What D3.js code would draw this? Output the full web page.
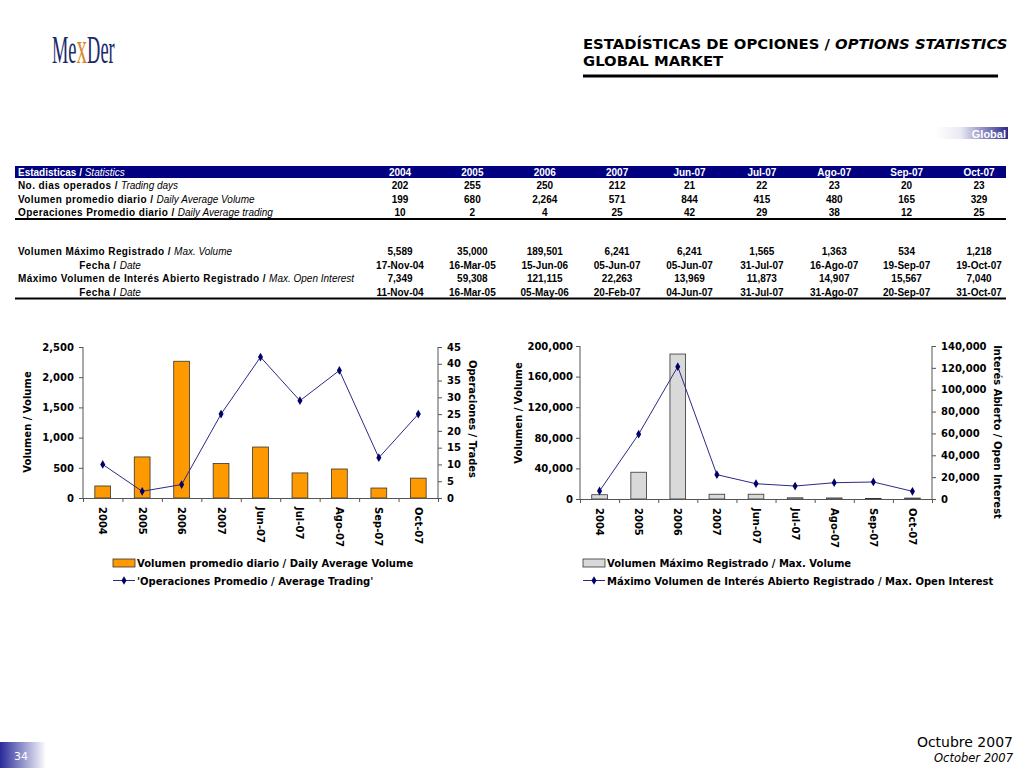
<!DOCTYPE html>
<html>
<head>
<meta charset="utf-8">
<script src="https://cdn.jsdelivr.net/npm/d3@7"></script>
<style>
  body { margin: 0; background: #fff; }
  svg { display: block; }
  .tbl { font-family: "Liberation Sans", Arial, sans-serif; font-size: 10px; }
  .chart text { font-family: "DejaVu Sans", Verdana, sans-serif; font-size: 10px; font-weight: bold; fill: #000; }
  .axis path, .axis line { stroke: #555; }
</style>
</head>
<body>
<div id="page"></div>
<script>
// table / chart data
const periods = ['2004', '2005', '2006', '2007', 'Jun-07', 'Jul-07', 'Ago-07', 'Sep-07', 'Oct-07'];
const tradingDays = [202, 255, 250, 212, 21, 22, 23, 20, 23];
const avgVolume = [199, 680, 2264, 571, 844, 415, 480, 165, 329];
const avgTrades = [10, 2, 4, 25, 42, 29, 38, 12, 25];
const maxVolume = [5589, 35000, 189501, 6241, 6241, 1565, 1363, 534, 1218];
const maxVolumeDate = ['17-Nov-04', '16-Mar-05', '15-Jun-06', '05-Jun-07', '05-Jun-07', '31-Jul-07', '16-Ago-07', '19-Sep-07', '19-Oct-07'];
const maxOpenInterest = [7349, 59308, 121115, 22263, 13969, 11873, 14907, 15567, 7040];
const maxOpenInterestDate = ['11-Nov-04', '16-Mar-05', '05-May-06', '20-Feb-07', '04-Jun-07', '31-Jul-07', '31-Ago-07', '20-Sep-07', '31-Oct-07'];

const fmt = d3.format(',');

const svg = d3.select('#page').append('svg')
    .attr('width', 1024)
    .attr('height', 768);

const defs = svg.append('defs');
const g1 = defs.append('linearGradient').attr('id', 'gradGlobal');
g1.append('stop').attr('offset', '0%').attr('stop-color', '#ffffff');
g1.append('stop').attr('offset', '35%').attr('stop-color', '#e8e8f2');
g1.append('stop').attr('offset', '100%').attr('stop-color', '#2b2b8c');
const g2 = defs.append('linearGradient').attr('id', 'gradPage');
g2.append('stop').attr('offset', '0%').attr('stop-color', '#2a2a9a');
g2.append('stop').attr('offset', '100%').attr('stop-color', '#ffffff');

// logo
const logo = svg.append('text')
    .attr('transform', 'translate(52,63) scale(0.46,1)')
    .style('font-family', '"Liberation Serif", serif')
    .style('font-size', '40px')
    .style('fill', '#1b2a6b');
logo.append('tspan').text('Me');
logo.append('tspan').text('x').style('fill', '#d98a2b').style('font-size', '46px');
logo.append('tspan').text('Der');

// header
svg.append('text')
    .attr('x', 583).attr('y', 49)
    .style('font-family', '"DejaVu Sans", Verdana, sans-serif')
    .style('font-size', '14.8px').style('font-weight', 'bold')
    .call(t => {
        t.append('tspan').text('ESTADÍSTICAS DE OPCIONES / ');
        t.append('tspan').text('OPTIONS STATISTICS').style('font-style', 'italic');
    });
svg.append('text')
    .attr('x', 583).attr('y', 66)
    .style('font-family', '"DejaVu Sans", Verdana, sans-serif')
    .style('font-size', '14.8px').style('font-weight', 'bold')
    .text('GLOBAL MARKET');
svg.append('line')
    .attr('x1', 583).attr('x2', 998).attr('y1', 76).attr('y2', 76)
    .attr('stroke', '#000').attr('stroke-width', 3);

// "Global" tag
svg.append('rect').attr('x', 936).attr('y', 127).attr('width', 72).attr('height', 12)
    .attr('fill', 'url(#gradGlobal)');
svg.append('text').attr('x', 1006).attr('y', 137.5)
    .attr('text-anchor', 'end')
    .style('font-family', '"Liberation Sans", Arial, sans-serif')
    .style('font-size', '11px').style('font-weight', 'bold').style('fill', '#fff')
    .text('Global');

// ---------- table ----------
const colX = d3.scalePoint().domain(periods).range([400, 979]);
const tbl = svg.append('g').attr('class', 'tbl');

tbl.append('rect').attr('x', 15).attr('y', 166).attr('width', 991).attr('height', 12).attr('fill', '#000080');
tbl.append('text').attr('x', 18).attr('y', 175.5).style('fill', '#fff')
    .call(t => {
        t.append('tspan').text('Estadisticas / ').style('font-weight', 'bold');
        t.append('tspan').text('Statistics').style('font-style', 'italic');
    });
tbl.selectAll('text.hdr').data(periods).join('text')
    .attr('class', 'hdr')
    .attr('x', d => colX(d)).attr('y', 175.5)
    .attr('text-anchor', 'middle')
    .style('fill', '#fff').style('font-weight', 'bold')
    .text(d => d);

const rows = [
    {y: 189, label: 'No. dias operados / ', it: 'Trading days', vals: tradingDays.map(fmt), center: false},
    {y: 202.5, label: 'Volumen promedio diario / ', it: 'Daily Average Volume', vals: avgVolume.map(fmt), center: false},
    {y: 216, label: 'Operaciones Promedio diario / ', it: 'Daily Average trading', vals: avgTrades.map(fmt), center: false},
    {y: 255, label: 'Volumen Máximo Registrado / ', it: 'Max. Volume', vals: maxVolume.map(fmt), center: false},
    {y: 268.5, label: 'Fecha / ', it: 'Date', vals: maxVolumeDate, center: true},
    {y: 282, label: 'Máximo Volumen de Interés Abierto Registrado / ', it: 'Max. Open Interest', vals: maxOpenInterest.map(fmt), center: false},
    {y: 295.5, label: 'Fecha / ', it: 'Date', vals: maxOpenInterestDate, center: true}
];

rows.forEach(r => {
    const t = tbl.append('text')
        .attr('x', r.center ? 110 : 18).attr('y', r.y)
        .attr('text-anchor', r.center ? 'middle' : 'start')
        .style('letter-spacing', '0.4px');
    t.append('tspan').text(r.label).style('font-weight', 'bold');
    t.append('tspan').text(r.it).style('font-style', 'italic').style('letter-spacing', '0px');
    tbl.append('g').selectAll('text').data(r.vals).join('text')
        .attr('x', (d, i) => colX(periods[i])).attr('y', r.y)
        .attr('text-anchor', 'middle').style('font-weight', 'bold')
        .text(d => d);
});
tbl.append('line').attr('x1', 15).attr('x2', 1006).attr('y1', 219).attr('y2', 219).attr('stroke', '#000').attr('stroke-width', 2);
tbl.append('line').attr('x1', 15).attr('x2', 1006).attr('y1', 298.5).attr('y2', 298.5).attr('stroke', '#000').attr('stroke-width', 2);

// ---------- charts ----------
function drawChart(cfg) {
    const g = svg.append('g').attr('class', 'chart');
    const x = d3.scaleBand().domain(periods).range([cfg.x0, cfg.x1]).paddingInner(0.6).paddingOuter(0.3);
    const xb = d3.scaleLinear().domain([0, periods.length]).range([cfg.x0, cfg.x1]);
    const yL = d3.scaleLinear().domain([0, cfg.maxL]).range([cfg.yB, cfg.yT]);
    const yR = d3.scaleLinear().domain([0, cfg.maxR]).range([cfg.yB, cfg.yT]);

    // bars
    g.append('g').selectAll('rect').data(cfg.bars).join('rect')
        .attr('x', (d, i) => x(periods[i]))
        .attr('y', d => yL(d))
        .attr('width', x.bandwidth())
        .attr('height', d => cfg.yB - yL(d))
        .attr('fill', cfg.barColor)
        .attr('stroke', '#333').attr('stroke-width', 0.8);

    // axes
    g.append('g').attr('class', 'axis')
        .attr('transform', `translate(${cfg.x0},0)`)
        .call(d3.axisLeft(yL).tickValues(cfg.ticksL).tickFormat(fmt).tickSize(4).tickPadding(cfg.padL))
        .call(a => a.select('.domain').attr('d', `M0,${cfg.yT}V${cfg.yB}`));
    g.append('g').attr('class', 'axis')
        .attr('transform', `translate(${cfg.x1},0)`)
        .call(d3.axisRight(yR).tickValues(cfg.ticksR).tickFormat(fmt).tickSize(4).tickPadding(5))
        .call(a => a.select('.domain').attr('d', `M0,${cfg.yT}V${cfg.yB}`));
    g.append('g').attr('class', 'axis')
        .attr('transform', `translate(0,${cfg.yB})`)
        .call(d3.axisBottom(xb).ticks(periods.length).tickSize(4).tickFormat(''));
    g.append('g').attr('class', 'axis')
        .attr('transform', `translate(0,${cfg.yB})`)
        .call(d3.axisBottom(x).tickSize(0))
        .call(a => a.select('.domain').remove())
        .selectAll('text')
        .attr('transform', 'rotate(90)')
        .attr('x', 9).attr('y', 0).attr('dy', '0.35em')
        .attr('text-anchor', 'start');

    // line
    const line = d3.line().x((d, i) => x(periods[i]) + x.bandwidth() / 2).y(d => yR(d));
    g.append('path').datum(cfg.line)
        .attr('d', line).attr('fill', 'none')
        .attr('stroke', '#2a2a86').attr('stroke-width', 1);
    g.append('g').selectAll('path').data(cfg.line).join('path')
        .attr('d', d3.symbol(d3.symbolDiamond, 22))
        .attr('transform', (d, i) => `translate(${x(periods[i]) + x.bandwidth() / 2},${yR(d)})`)
        .attr('fill', '#000066');

    // axis titles
    g.append('text')
        .attr('transform', `translate(${cfg.titleLX},${cfg.titleLY}) rotate(-90)`)
        .attr('text-anchor', 'middle').attr('dy', '0.35em')
        .text('Volumen / Volume');
    g.append('text')
        .attr('transform', `translate(${cfg.titleRX},${cfg.titleRY}) rotate(90)`)
        .attr('text-anchor', 'middle').attr('dy', '0.35em')
        .text(cfg.titleR);

    // legend
    g.append('rect').attr('x', cfg.legX).attr('y', 559).attr('width', 22).attr('height', 8)
        .attr('fill', cfg.barColor).attr('stroke', '#333').attr('stroke-width', 0.8);
    g.append('text').attr('x', cfg.legX + 24).attr('y', 567).text(cfg.legBar);
    g.append('line').attr('x1', cfg.legX).attr('x2', cfg.legX + 22).attr('y1', 580.5).attr('y2', 580.5)
        .attr('stroke', '#2a2a86').attr('stroke-width', 1);
    g.append('path').attr('d', d3.symbol(d3.symbolDiamond, 22))
        .attr('transform', `translate(${cfg.legX + 11},580.5)`).attr('fill', '#000066');
    g.append('text').attr('x', cfg.legX + 24).attr('y', 584.5).text(cfg.legLine);
}

drawChart({
    x0: 83, x1: 438, yT: 347, yB: 498,
    maxL: 2500, maxR: 45,
    ticksL: d3.range(0, 2501, 500), ticksR: d3.range(0, 46, 5), padL: 5,
    bars: avgVolume, line: avgTrades, barColor: '#ff9900',
    titleLX: 27, titleLY: 422, titleRX: 472, titleRY: 419,
    titleR: 'Operaciones / Trades',
    legX: 113,
    legBar: 'Volumen promedio diario / Daily Average Volume',
    legLine: "'Operaciones Promedio / Average Trading'"
});

drawChart({
    x0: 580, x1: 932, yT: 346, yB: 499,
    maxL: 200000, maxR: 140000,
    ticksL: d3.range(0, 200001, 40000), ticksR: d3.range(0, 140001, 20000), padL: 3,
    bars: maxVolume, line: maxOpenInterest, barColor: '#d9d9d9',
    titleLX: 518, titleLY: 413, titleRX: 997, titleRY: 432,
    titleR: 'Interés Abierto / Open Interest',
    legX: 583,
    legBar: 'Volumen Máximo Registrado / Max. Volume',
    legLine: 'Máximo Volumen de Interés Abierto Registrado / Max. Open Interest'
});

// footer
svg.append('rect').attr('x', 0).attr('y', 742).attr('width', 46).attr('height', 26).attr('fill', 'url(#gradPage)');
svg.append('text').attr('x', 14).attr('y', 760)
    .style('font-family', '"DejaVu Sans", sans-serif').style('font-size', '11px').style('fill', '#fff')
    .text('34');
svg.append('text').attr('x', 1013).attr('y', 747).attr('text-anchor', 'end')
    .style('font-family', '"DejaVu Sans", sans-serif').style('font-size', '14px')
    .text('Octubre 2007');
svg.append('text').attr('x', 1013).attr('y', 762).attr('text-anchor', 'end')
    .style('font-family', '"DejaVu Sans", sans-serif').style('font-size', '11.5px').style('font-style', 'italic')
    .text('October 2007');
</script>
</body>
</html>
